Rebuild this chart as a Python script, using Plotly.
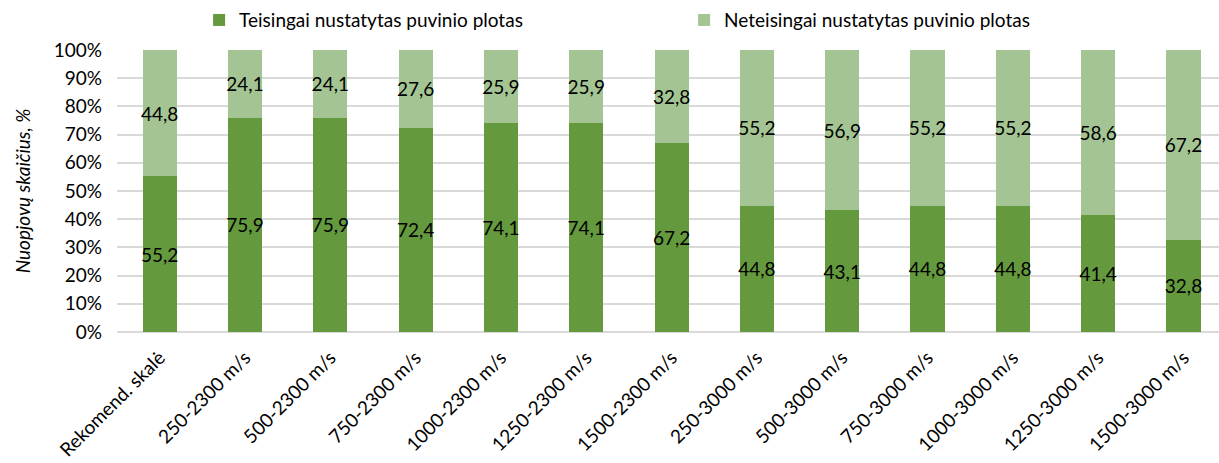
import plotly.graph_objects as go

categories = ["Rekomend. skalė", "250-2300 m/s", "500-2300 m/s", "750-2300 m/s",
              "1000-2300 m/s", "1250-2300 m/s", "1500-2300 m/s", "250-3000 m/s",
              "500-3000 m/s", "750-3000 m/s", "1000-3000 m/s", "1250-3000 m/s",
              "1500-3000 m/s"]
correct = [55.2, 75.9, 75.9, 72.4, 74.1, 74.1, 67.2, 44.8, 43.1, 44.8, 44.8, 41.4, 32.8]
incorrect = [44.8, 24.1, 24.1, 27.6, 25.9, 25.9, 32.8, 55.2, 56.9, 55.2, 55.2, 58.6, 67.2]
y_ticks = [0, 10, 20, 30, 40, 50, 60, 70, 80, 90, 100]
y_tick_labels = [f"{v}%" for v in y_ticks]

FONT = "Lato"
FS = 19
dark = "#64993E"
light = "#A4C593"

fig = go.Figure()
fig.add_trace(go.Bar(
    x=categories, y=correct, name="Teisingai nustatytas puvinio plotas",
    marker=dict(color=dark, line=dict(width=0)),
    texttemplate="%{y:.1f}", textposition="inside", insidetextanchor="middle",
    textfont=dict(color="black", size=FS, family=FONT), textangle=0,
    constraintext="none",
))
fig.add_trace(go.Bar(
    x=categories, y=incorrect, name="Neteisingai nustatytas puvinio plotas",
    marker=dict(color=light, line=dict(width=0)),
    texttemplate="%{y:.1f}", textposition="inside", insidetextanchor="middle",
    textfont=dict(color="black", size=FS, family=FONT), textangle=0,
    constraintext="none",
))

fig.update_layout(
    width=1219, height=463,
    barmode="stack", bargap=0.6,
    separators=", ",
    plot_bgcolor="white", paper_bgcolor="white",
    margin=dict(l=117, r=0, t=50, b=131),
    font=dict(family=FONT, size=FS, color="black"),
    uniformtext=dict(mode="show", minsize=FS),
    legend=dict(orientation="h", x=0.0745, xanchor="left", y=1.106, yanchor="middle",
                entrywidth=440, entrywidthmode="pixels",
                font=dict(size=FS, family=FONT), traceorder="normal"),
    xaxis=dict(range=[-0.5, 12.416], tickangle=-45, tickfont=dict(size=FS, family=FONT),
               showgrid=False, showline=False, ticks="",
               ticklabelstandoff=10),
    yaxis=dict(range=[0, 100], tickvals=y_ticks, ticktext=y_tick_labels,
               showgrid=True, gridcolor="#D9D9D9", gridwidth=1.5,
               zeroline=True, zerolinecolor="#D9D9D9", zerolinewidth=1.5,
               ticklabelstandoff=14,
               tickfont=dict(size=FS, family=FONT),
               title=dict(text="<i>Nuopjovų skaičius, %</i>", font=dict(size=FS, family=FONT),
                          standoff=18)),
)

fig.write_html("out.html")
